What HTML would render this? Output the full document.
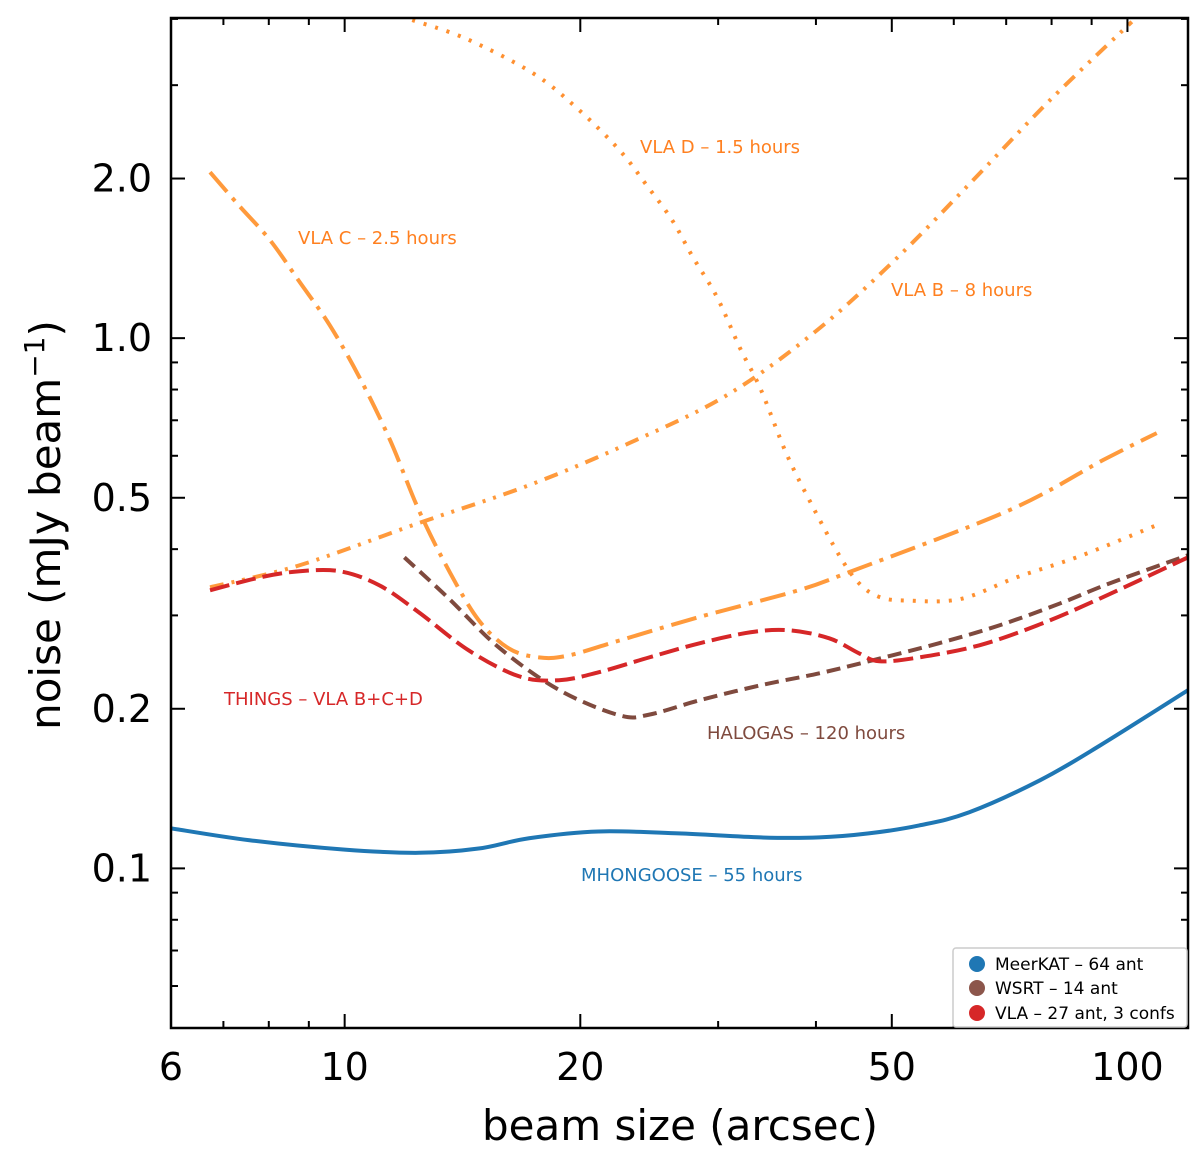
<!DOCTYPE html>
<html><head><meta charset="utf-8"><style>
body{margin:0;background:#fff;}
svg{display:block;font-family:"DejaVu Sans","Liberation Sans",sans-serif;}
</style></head><body>
<svg id="chart" width="1200" height="1159">
<g id="curves"></g>
<g id="axes"></g>
</svg>
<script>
const xLeft=171,xRight=1188,yTop=18,yBottom=1028;
const xMin=6,xMax=119.5,yMin=0.05,yMax=4.016;
const xMajorTicks=[6,10,20,50,100];
const xMajorLabels=["6","10","20","50","100"];
const xMinorTicks=[7,8,9,30,40,60,70,80,90];
const yMajorTicks=[0.1,0.2,0.5,1.0,2.0];
const yMajorLabels=["0.1","0.2","0.5","1.0","2.0"];
const yMinorTicks=[0.06,0.07,0.08,0.09,0.3,0.4,0.6,0.7,0.8,0.9,3,4];

const mhongooseX=[6,7.56,10,12.44,14.83,17.2,21.1,26.7,34.0,40.4,46.7,54.2,62.8,77.3,92.3,119.5];
const mhongooseY=[0.119,0.113,0.1085,0.107,0.109,0.114,0.1174,0.1164,0.1144,0.1144,0.1164,0.1205,0.1276,0.1466,0.1706,0.2168];
const halogasX=[11.92,13.58,15.74,18.79,22.44,24.5,28.4,34.0,40.4,46.7,57.4,68.6,82.0,95.0,119.5];
const halogasY=[0.386,0.323,0.261,0.217,0.1944,0.195,0.2075,0.2215,0.2333,0.2458,0.2658,0.2873,0.316,0.345,0.3896];
const thingsX=[6.73,7.81,8.76,9.86,11.07,12.44,14.4,16.7,18.79,21.1,24.5,28.4,33.0,37.0,41.6,45.4,48.2,54.2,64.7,77.3,92.3,119.5];
const thingsY=[0.3346,0.354,0.3634,0.3634,0.342,0.304,0.2578,0.2303,0.2264,0.2343,0.25,0.2658,0.2788,0.2812,0.2716,0.2545,0.2458,0.25,0.2635,0.2886,0.323,0.386];
const vlaCX=[6.73,7.32,8.03,8.76,9.57,10.46,11.43,12.44,13.58,14.83,16.2,17.7,19.3,22.44,28.4,38.0,44.1,70.6,93.1,109];
const vlaCY=[2.056,1.782,1.53,1.276,1.058,0.84,0.642,0.4735,0.365,0.294,0.26,0.25,0.252,0.269,0.298,0.3346,0.362,0.4735,0.589,0.662];
const vlaBX=[6.73,8.76,12.44,17.2,23.1,30.8,40.0,50.6,63.7,79.6,101.3];
const vlaBY=[0.339,0.373,0.448,0.528,0.634,0.781,1.031,1.41,1.995,2.81,3.95];
const vlaDX=[12.2,14.3,17.4,19.8,22.44,24.3,26.2,27.8,29.9,32.0,34.0,36.7,39.6,42.9,45.4,48.2,52.2,61.1,72.2,86.9,109];
const vlaDY=[3.98,3.67,3.16,2.716,2.263,1.944,1.67,1.428,1.195,0.957,0.801,0.604,0.482,0.388,0.345,0.325,0.32,0.322,0.354,0.388,0.444];

const NS="http://www.w3.org/2000/svg";
function sx(v){return xLeft+(Math.log10(v)-Math.log10(xMin))/(Math.log10(xMax)-Math.log10(xMin))*(xRight-xLeft);}
function sy(v){return yBottom-(Math.log10(v)-Math.log10(yMin))/(Math.log10(yMax)-Math.log10(yMin))*(yBottom-yTop);}
function mk(tag,attrs,parent){const e=document.createElementNS(NS,tag);for(const k in attrs)e.setAttribute(k,attrs[k]);parent.appendChild(e);return e;}
function smooth(xs,ys){const p=xs.map((x,i)=>[sx(x),sy(ys[i])]);let d="M"+p[0][0]+","+p[0][1];
for(let i=0;i<p.length-1;i++){const p0=p[i-1]||p[i],p1=p[i],p2=p[i+1],p3=p[i+2]||p2;
const c1=[p1[0]+(p2[0]-p0[0])/6,p1[1]+(p2[1]-p0[1])/6],c2=[p2[0]-(p3[0]-p1[0])/6,p2[1]-(p3[1]-p1[1])/6];
d+=" C"+c1+" "+c2+" "+p2;}return d;}
const curves=document.getElementById('curves');
const axes=document.getElementById('axes');
const clip=mk('clipPath',{id:'pc'},curves);mk('rect',{x:xLeft,y:yTop,width:xRight-xLeft,height:yBottom-yTop},clip);
const cg=mk('g',{'clip-path':'url(#pc)'},curves);
const series=[
 ['vla-d-curve',vlaDX,vlaDY,'#ff9030','3,9'],
 ['vla-b-curve',vlaBX,vlaBY,'#ff9a3c','14,8,3,8,3,8'],
 ['vla-c-curve',vlaCX,vlaCY,'#ff9a3c','26,8,4,8'],
 ['halogas-curve',halogasX,halogasY,'#7f4a3e','14,7'],
 ['things-curve',thingsX,thingsY,'#d62728','20,7'],
 ['mhongoose-curve',mhongooseX,mhongooseY,'#1f77b4','']
];
series.forEach(s=>{const el=mk('path',{d:smooth(s[1],s[2]),fill:'none',stroke:s[3],'stroke-width':4,'stroke-dasharray':s[4]},cg);

});
const labels=[['vla-d-label','VLA D – 1.5 hours',640,153,'#ff8020'],['vla-c-label','VLA C – 2.5 hours',298,244,'#ff8020'],['vla-b-label','VLA B – 8 hours',891,296,'#ff8020'],
['things-label','THINGS – VLA B+C+D',224,705,'#d62728'],['halogas-label','HALOGAS – 120 hours',707,739,'#7f4a3e'],['mhongoose-label','MHONGOOSE – 55 hours',581,881,'#1f77b4']];
labels.forEach(l=>{const t=mk('text',{x:l[2],y:l[3],fill:l[4],'font-size':18},curves);t.textContent=l[1];

});
xMajorTicks.forEach((v,i)=>{const x=sx(v);mk('line',{x1:x,x2:x,y1:yBottom,y2:yBottom-14,stroke:'#000','stroke-width':2},axes);mk('line',{x1:x,x2:x,y1:yTop,y2:yTop+14,stroke:'#000','stroke-width':2},axes);
const t=mk('text',{x:x,y:1080,'font-size':38,'text-anchor':'middle'},axes);t.textContent=xMajorLabels[i];

});
xMinorTicks.forEach(v=>{const x=sx(v);mk('line',{x1:x,x2:x,y1:yBottom,y2:yBottom-7,stroke:'#000','stroke-width':2},axes);mk('line',{x1:x,x2:x,y1:yTop,y2:yTop+7,stroke:'#000','stroke-width':2},axes);});
yMajorTicks.forEach((v,i)=>{const y=sy(v);mk('line',{x1:xLeft,x2:xLeft+14,y1:y,y2:y,stroke:'#000','stroke-width':2},axes);mk('line',{x1:xRight,x2:xRight-14,y1:y,y2:y,stroke:'#000','stroke-width':2},axes);
const t=mk('text',{x:152,y:y+13,'font-size':38,'text-anchor':'end'},axes);t.textContent=yMajorLabels[i];

});
yMinorTicks.forEach(v=>{const y=sy(v);mk('line',{x1:xLeft,x2:xLeft+7,y1:y,y2:y,stroke:'#000','stroke-width':2},axes);mk('line',{x1:xRight,x2:xRight-7,y1:y,y2:y,stroke:'#000','stroke-width':2},axes);});
const fr=mk('rect',{x:xLeft,y:yTop,width:xRight-xLeft,height:yBottom-yTop,fill:'none',stroke:'#000','stroke-width':2.5},axes);



const svg=document.getElementById('chart');
function mk2(tag,attrs){return mk(tag,attrs,svg);}
const xt=mk2('text',{x:680,y:1140,'font-size':42,'text-anchor':'middle'});xt.textContent='beam size (arcsec)';


const yt=mk2('text',{x:0,y:0,'font-size':42,'text-anchor':'middle',transform:'translate(60,525) rotate(-90)'});
yt.innerHTML='noise (mJy beam<tspan dy="-16" font-size="28">−1</tspan><tspan dy="16">)</tspan>';


const lg=mk2('rect',{x:953,y:948,width:234,height:79,fill:'#fff',stroke:'#ccc','stroke-width':1.5,rx:3});


[['MeerKAT – 64 ant','#1f77b4',964],['WSRT – 14 ant','#8c564b',988],['VLA – 27 ant, 3 confs','#d62728',1013]].forEach(e=>{
const c=mk2('circle',{cx:977,cy:e[2],r:8,fill:e[1]});


const t=mk2('text',{x:995,y:e[2]+6,'font-size':17});t.textContent=e[0];

});
</script>
</body></html>
